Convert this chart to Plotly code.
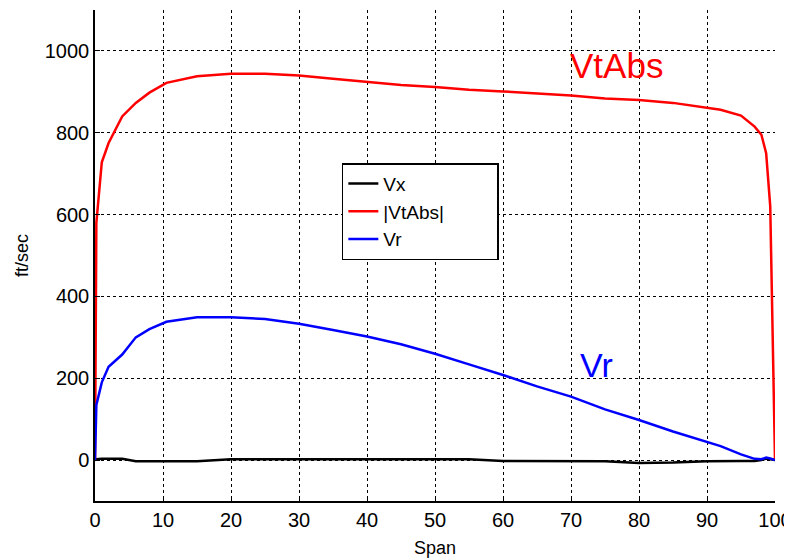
import plotly.graph_objects as go

# Span positions (percent)
span = [0, 0.2, 1, 2, 4, 6, 8, 10.5, 15, 20, 25, 30, 35, 40, 45, 50, 55, 60, 65,
        70, 75, 80, 85, 90, 92, 95, 97, 98, 98.7, 99.3, 100]

vx = [0, 2, 3, 3, 3, -3, -3, -3, -3, 2, 2, 2, 2, 2, 2, 2, 2, -2, -2,
      -2, -3, -7, -6, -3, -2, -2, -2, 0, 4, 2, 0]

vtabs = [0, 580, 728, 775, 840, 873, 898, 922, 938, 944, 944, 940, 932, 925, 917,
         912, 905, 901, 896, 891, 884, 880, 873, 862, 856, 842, 815, 795, 750, 620, 0]

vr = [0, 135, 190, 228, 258, 300, 320, 338, 349, 349, 345, 333, 318, 302, 283,
      260, 234, 208, 180, 155, 124, 98, 70, 45, 34, 14, 3, 2, 6, 4, 0]

x_ticks = [0, 10, 20, 30, 40, 50, 60, 70, 80, 90, 100]
y_ticks = [0, 200, 400, 600, 800, 1000]

FONT = "Liberation Sans, Arial, Helvetica, sans-serif"
PAD = "&nbsp;" * 9  # invisible padding to widen the legend box

fig = go.Figure()
fig.add_trace(go.Scatter(x=span, y=vx, mode="lines", name="Vx",
                         line=dict(color="black", width=2.5)))
fig.add_trace(go.Scatter(x=span, y=vtabs, mode="lines", name="|VtAbs|" + PAD,
                         line=dict(color="#ff0000", width=2.5)))
fig.add_trace(go.Scatter(x=span, y=vr, mode="lines", name="Vr",
                         line=dict(color="#0000ff", width=2.5)))

fig.add_annotation(x=69.5, y=965, text="VtAbs", showarrow=False, xanchor="left",
                   yanchor="middle", font=dict(family=FONT, size=35, color="#ff0000"))
fig.add_annotation(x=71, y=232, text="Vr", showarrow=False, xanchor="left",
                   yanchor="middle", font=dict(family=FONT, size=34, color="#0000ff"))

axis_common = dict(
    showgrid=True, gridcolor="black", griddash="dot", gridwidth=1,
    zeroline=False, showline=True, linecolor="black", linewidth=1.5,
    ticks="inside", ticklen=5, tickcolor="black", tickwidth=1,
    tickfont=dict(family=FONT, size=20, color="black"), mirror=False,
    automargin=False,
)

fig.update_layout(
    width=784, height=551,
    margin=dict(l=87, r=17, t=2, b=58),
    paper_bgcolor="white", plot_bgcolor="white",
    font=dict(family=FONT, size=18, color="black"),
    xaxis=dict(range=[0, 100], tickvals=x_ticks,
               title=dict(text="Span", font=dict(family=FONT, size=18), standoff=12),
               **axis_common),
    yaxis=dict(range=[-100, 1100], tickvals=y_ticks,
               title=dict(text="ft/sec", font=dict(family=FONT, size=18), standoff=11),
               **axis_common),
    legend=dict(x=0.363, y=0.688, xanchor="left", yanchor="top",
                bordercolor="black", borderwidth=1.5, bgcolor="white",
                font=dict(family=FONT, size=19, color="black"),
                tracegroupgap=6),
    showlegend=True,
)

fig.write_html("out.html")
